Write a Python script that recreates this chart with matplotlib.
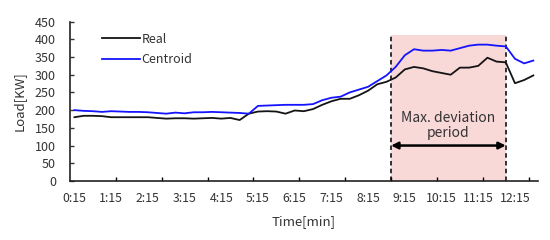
import matplotlib
matplotlib.use("Agg")
import matplotlib.pyplot as plt

plt.rcParams['font.family'] = ['Noto Sans CJK KR', 'DejaVu Sans']

# 15-minute samples from 0:15 to 12:45
real = [180, 184, 184, 183, 180, 180, 180, 180, 180, 178,
        176, 177, 177, 176, 177, 178, 176, 178, 172, 190,
        196, 197, 196, 190, 199, 197, 203, 215, 225, 232,
        232, 242, 255, 273, 280, 292, 315, 322, 318, 310,
        305, 300, 320, 320, 325, 348, 337, 335, 276, 285,
        298]
centroid = [200, 198, 197, 195, 197, 196, 195, 195, 194, 192,
            190, 193, 191, 194, 194, 195, 194, 193, 192, 190,
            212, 213, 214, 215, 215, 215, 217, 228, 235, 238,
            250, 258, 266, 282, 298, 322, 355, 372, 368, 368,
            370, 368, 375, 382, 385, 385, 382, 380, 345, 332,
            340]
hour_labels = ['0:15', '1:15', '2:15', '3:15', '4:15', '5:15', '6:15',
               '7:15', '8:15', '9:15', '10:15', '11:15', '12:15']

# deviation window (category positions) and its shading height
dev_start, dev_end = 34.5, 47.0
dev_top = 412

txt = '#333333'
x = list(range(len(real)))

fig = plt.figure(figsize=(5.5, 2.4), dpi=100)
ax = fig.add_axes([0.127, 0.246, 0.851, 0.664])

ax.fill_between([dev_start, dev_end], 0, dev_top, color='#f9d8d8', lw=0, zorder=0)
ax.vlines([dev_start, dev_end], 0, dev_top, colors='#222222', linestyles=(0, (2.5, 1.8)), lw=1.3, zorder=1)

ax.plot(x, real, color='#141414', lw=1.3, label='Real', zorder=3)
ax.plot(x, centroid, color='#1414ff', lw=1.3, label='Centroid', zorder=3)

ax.annotate('', xy=(dev_start, 100), xytext=(dev_end, 100),
            arrowprops=dict(arrowstyle='<|-|>', color='black', lw=1.8,
                            mutation_scale=10, shrinkA=0, shrinkB=0), zorder=4)
ax.text((dev_start + dev_end) / 2, 157, 'Max. deviation\nperiod', ha='center', va='center',
        fontsize=10, color=txt, linespacing=1.1)

ax.set_xlim(-0.5, len(real) - 0.5)
ax.set_ylim(0, 450)
ax.set_yticks(range(0, 451, 50))

# labels every hour, tick marks every 5 categories (between categories)
ax.set_xticks(range(0, len(real), 4))
ax.set_xticklabels(hour_labels)
ax.tick_params(axis='x', length=0, labelsize=8.8, colors=txt, pad=8)
ax.set_xticks([k * 5 - 0.5 for k in range(1, 11)], minor=True)
ax.tick_params(axis='x', which='minor', direction='in', length=3, width=1)
ax.tick_params(axis='y', direction='in', length=3, width=1, labelsize=9, colors=txt, pad=10)

for s in ['top', 'right']:
    ax.spines[s].set_visible(False)
for s in ['left', 'bottom']:
    ax.spines[s].set_linewidth(1.2)
    ax.spines[s].set_color('#222222')

ax.set_xlabel('Time[min]', fontsize=9.5, color=txt, labelpad=7)
ax.set_ylabel('Load[KW]', fontsize=9.5, color=txt, labelpad=7)

ax.legend(loc='upper left', bbox_to_anchor=(0.045, 1.0), frameon=False, fontsize=9,
          handlelength=3.0, handletextpad=0.15, labelspacing=0.6, labelcolor=txt)

fig.savefig('out.png', dpi=100)
